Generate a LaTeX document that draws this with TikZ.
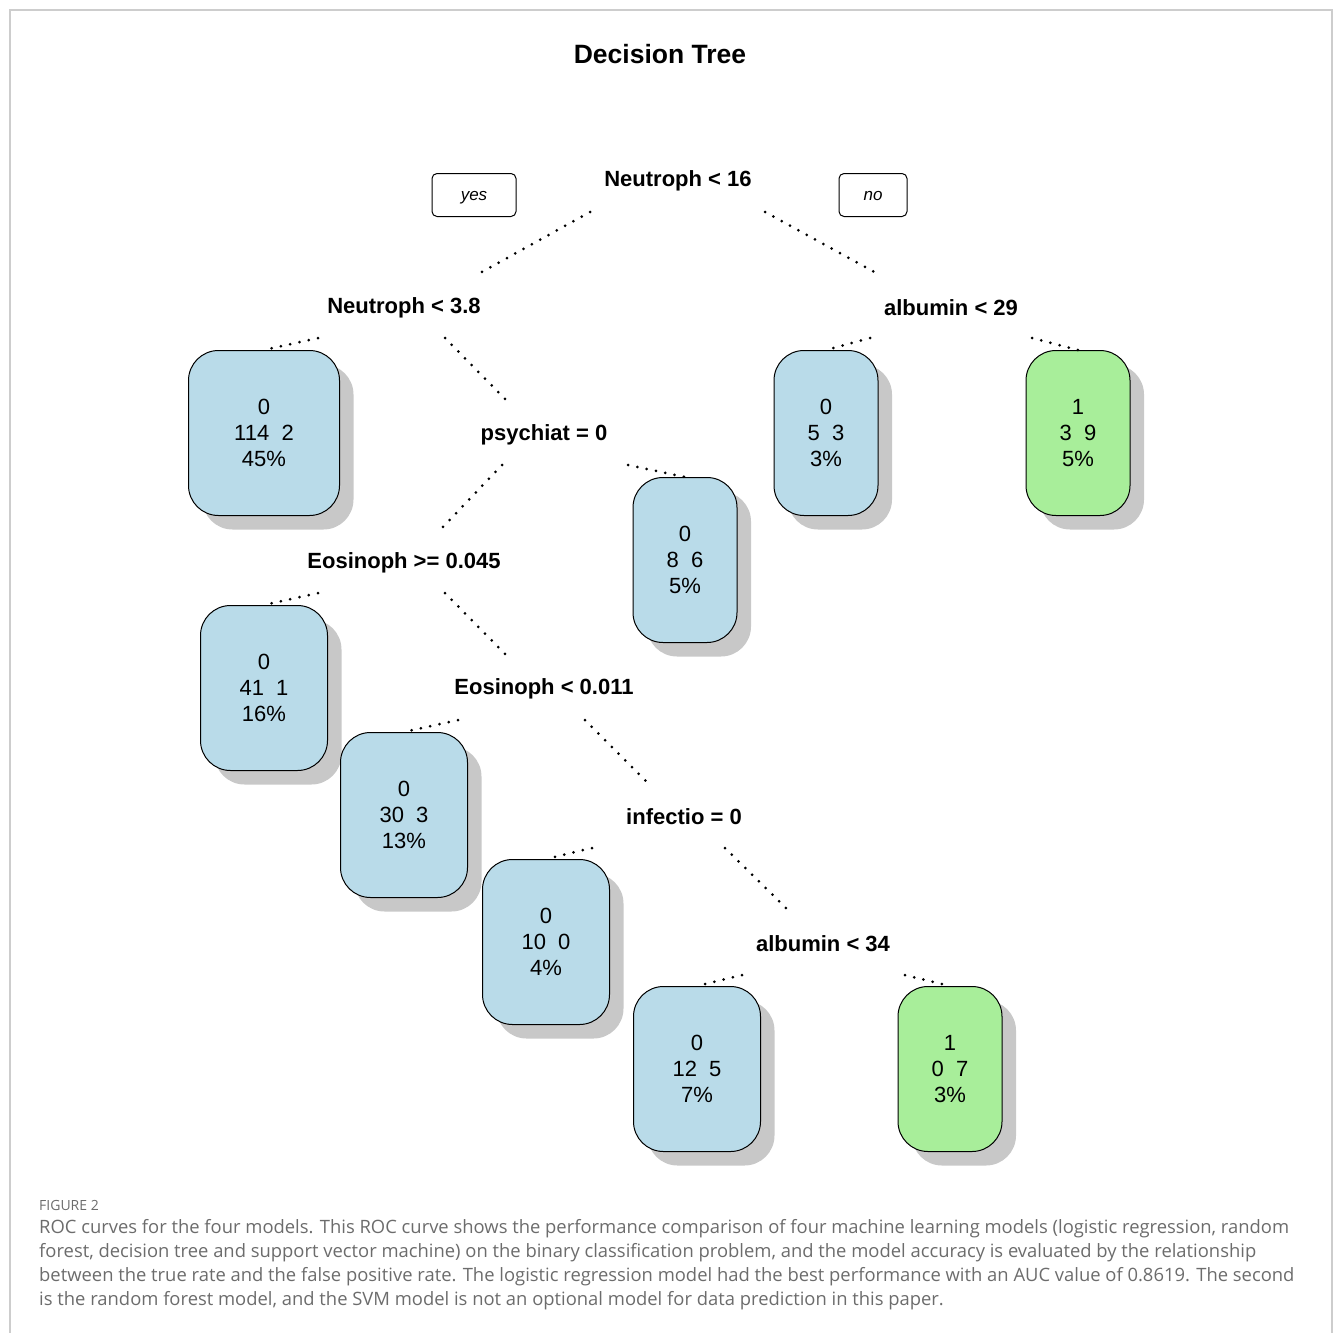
\documentclass[tikz,border=0pt]{standalone}
\usepackage{fontspec}
\setmainfont{Liberation Sans}
\newfontfamily\capfont{Open Sans}
\usetikzlibrary{shadows}
\definecolor{leafblue}{RGB}{185,219,233}
\definecolor{leafgreen}{RGB}{168,238,154}
\definecolor{shadowgray}{RGB}{200,200,200}
\definecolor{capgray}{RGB}{108,108,108}
\definecolor{framegray}{RGB}{205,205,205}

\begin{document}
\begin{tikzpicture}[x=1pt,y=-1pt,
   split/.style={anchor=base,inner sep=0pt,font=\fontsize{22}{26}\selectfont\bfseries},
   leaf/.style={draw=black,line width=1pt,rounded corners=30pt,minimum height=165pt,
      align=center,inner sep=0pt,font=\fontsize{22}{26}\selectfont,
      drop shadow={shadow xshift=14pt,shadow yshift=-14pt,fill=shadowgray,opacity=1}},
   blueleaf/.style={leaf,fill=leafblue},
   greenleaf/.style={leaf,fill=leafgreen},
   tag/.style={draw=black,line width=1pt,rounded corners=5pt,minimum height=43pt,
      inner sep=0pt,text height=10pt,text depth=0pt,font=\fontsize{17}{20}\selectfont\itshape},
   branch/.style={line width=3pt,dash pattern=on 0pt off 9.5pt,line cap=round}]
   \useasboundingbox (0,0) rectangle (1333,1333);
   \draw[framegray,line width=1.5pt] (10,1333) -- (10,10) -- (1332,10) -- (1332,1333);
   \node[anchor=base,inner sep=0pt,font=\fontsize{26.5}{30}\selectfont\bfseries] (title) at (660,63) {Decision Tree};
   % splits
   \node[split] (root) at (678,186) {Neutroph < 16};
   \node[split] (s2) at (404,313) {Neutroph < 3.8};
   \node[split] (s3) at (951,315) {albumin < 29};
   \node[split] (s4) at (544,440) {psychiat = 0};
   \node[split] (s5) at (404,568) {Eosinoph >= 0.045};
   \node[split] (s6) at (544,694) {Eosinoph < 0.011};
   \node[split] (s7) at (684,824) {infectio = 0};
   \node[split] (s8) at (823,951) {albumin < 34};
   \node[tag,minimum width=84pt] (yes) at (474,195) {yes};
   \node[tag,minimum width=68pt] (no) at (873,195) {no};
   % leaves
   \node[blueleaf,minimum width=151pt] (l1) at (264,433) {0\\114\ \ 2\\45\%};
   \node[blueleaf,minimum width=104pt] (l2) at (826,433) {0\\5\ \ 3\\3\%};
   \node[greenleaf,minimum width=104pt] (l3) at (1078,433) {1\\3\ \ 9\\5\%};
   \node[blueleaf,minimum width=104pt] (l4) at (685,560) {0\\8\ \ 6\\5\%};
   \node[blueleaf,minimum width=127pt] (l5) at (264,688) {0\\41\ \ 1\\16\%};
   \node[blueleaf,minimum width=127pt] (l6) at (404,815) {0\\30\ \ 3\\13\%};
   \node[blueleaf,minimum width=127pt] (l7) at (546,942) {0\\10\ \ 0\\4\%};
   \node[blueleaf,minimum width=127pt] (l8) at (697,1069) {0\\12\ \ 5\\7\%};
   \node[greenleaf,minimum width=104pt] (l9) at (950,1069) {1\\0\ \ 7\\3\%};
   % branches
   \draw[branch] ([shift={(-88,26)}]root.base) -- ([shift={(76,-40)}]s2.base);
   \draw[branch] ([shift={(87,26)}]root.base) -- ([shift={(-75,-42)}]s3.base);
   \draw[branch] ([shift={(-86,25)}]s2.base) -- (l1.north);
   \draw[branch] ([shift={(41,25)}]s2.base) -- ([shift={(-36,-38)}]s4.base);
   \draw[branch] ([shift={(-81,23)}]s3.base) -- (l2.north);
   \draw[branch] ([shift={(81,23)}]s3.base) -- (l3.north);
   \draw[branch] ([shift={(-42,25)}]s4.base) -- ([shift={(38,-40)}]s5.base);
   \draw[branch] ([shift={(84,25)}]s4.base) -- (l4.north);
   \draw[branch] ([shift={(-86,25)}]s5.base) -- (l5.north);
   \draw[branch] ([shift={(41,25)}]s5.base) -- ([shift={(-36,-37)}]s6.base);
   \draw[branch] ([shift={(-86,26)}]s6.base) -- (l6.north);
   \draw[branch] ([shift={(41,26)}]s6.base) -- ([shift={(-36,-41)}]s7.base);
   \draw[branch] ([shift={(-92,24)}]s7.base) -- (l7.north);
   \draw[branch] ([shift={(41,24)}]s7.base) -- ([shift={(-35,-41)}]s8.base);
   \draw[branch] ([shift={(-81,24)}]s8.base) -- (l8.north);
   \draw[branch] ([shift={(82,24)}]s8.base) -- (l9.north);
   % caption
   \node[anchor=base west,inner sep=0pt,text=capgray,font=\capfont\fontsize{14}{16}\selectfont] (fig) at (39,1210) {FIGURE 2};
   \node[anchor=north west,inner sep=0pt,align=left,text=capgray,font=\capfont\fontsize{18.4}{24}\selectfont] (cap) at (39,1219)
      {ROC curves for the four models. This ROC curve shows the performance comparison of four machine learning models (logistic regression, random\\
       forest, decision tree and support vector machine) on the binary classification problem, and the model accuracy is evaluated by the relationship\\
       between the true rate and the false positive rate. The logistic regression model had the best performance with an AUC value of 0.8619. The second\\
       is the random forest model, and the SVM model is not an optional model for data prediction in this paper.};
\end{tikzpicture}
\end{document}
